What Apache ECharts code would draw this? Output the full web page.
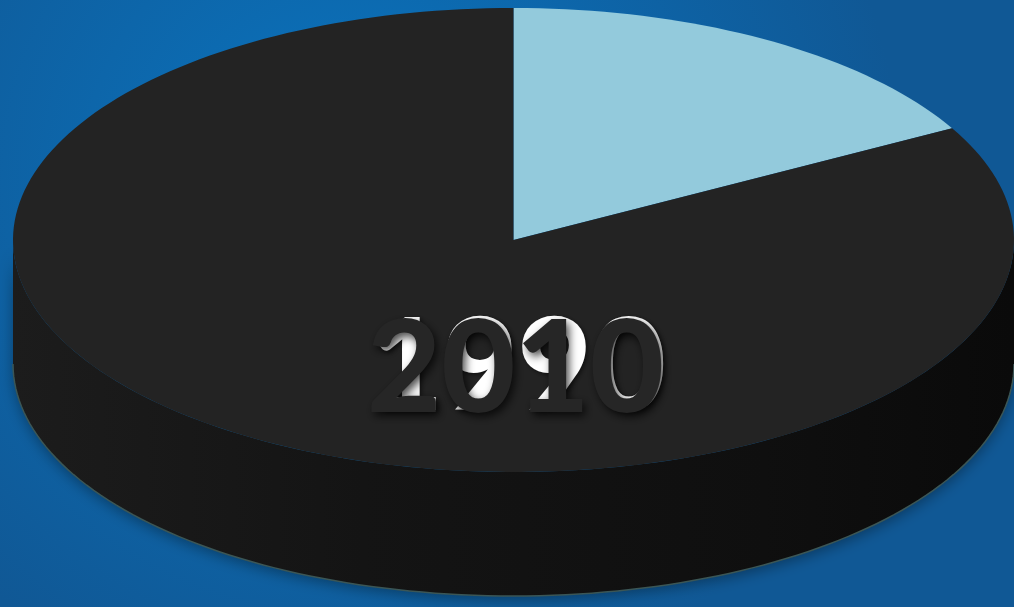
<!DOCTYPE html>
<html>
<head>
<meta charset="utf-8">
<script src="https://cdn.jsdelivr.net/npm/echarts@6/dist/echarts.min.js"></script>
<style>
  html, body { margin: 0; padding: 0; }
  #chart { width: 1014px; height: 607px; }
</style>
</head>
<body>
<div id="chart"></div>
<script>
// data
const sliceNames = ['Segment A', 'Segment B'];
const sliceValues = [17, 83];
const yearLabels = ['1990', '2010'];

const sliceColors = ['#93cadc', '#232323'];
const depth = 124; // thickness of the 3d disc, px

const total = sliceValues.reduce((a, b) => a + b, 0);
let acc = 0;
const sliceData = sliceValues.map((v, i) => {
  const start = acc / total * 360;
  acc += v;
  return { name: sliceNames[i], value: [start, acc / total * 360, v] };
});

// points on the ellipse rim, angle in degrees clockwise from 12 o'clock
function arcPoints(api, a0, a1) {
  const pts = [];
  const n = Math.max(2, Math.ceil((a1 - a0) / 1.5));
  for (let k = 0; k <= n; k++) {
    const t = (a0 + (a1 - a0) * k / n) * Math.PI / 180;
    pts.push(api.coord([Math.sin(t), Math.cos(t)]));
  }
  return pts;
}

const renderTop = (params, api) => {
  const a0 = api.value(0);
  const a1 = api.value(1);
  const pts = [api.coord([0, 0])].concat(arcPoints(api, a0, a1));
  return {
    type: 'polygon',
    shape: { points: pts },
    style: { fill: sliceColors[params.dataIndex] }
  };
};

const renderSide = (params, api) => {
  const a0 = Math.max(api.value(0), 90);
  const a1 = Math.min(api.value(1), 270);
  if (a0 >= a1) return;
  const rim = arcPoints(api, a0, a1);
  const low = rim.map(p => [p[0], p[1] + depth]).reverse();
  return {
    type: 'group',
    children: [
      {
        type: 'polygon',
        shape: { points: rim.concat(low) },
        style: {
          fill: new echarts.graphic.LinearGradient(0, 0, 1, 0, [
            { offset: 0, color: '#1c1c1c' },
            { offset: 0.35, color: '#141414' },
            { offset: 0.75, color: '#0f0f0f' },
            { offset: 1, color: '#0a0a0a' }
          ]),
          shadowColor: 'rgba(0,0,0,0.35)',
          shadowBlur: 14,
          shadowOffsetY: 4
        }
      },
      {
        type: 'polyline',
        shape: { points: low },
        style: { stroke: '#3b5656', lineWidth: 1.5, fill: null }
      }
    ]
  };
};

const chart = echarts.init(document.getElementById('chart'));

const textBase = {
  fontFamily: 'Lato',
  fontWeight: 900,
  fontSize: 128
};

chart.setOption({
  animation: false,
  backgroundColor: new echarts.graphic.RadialGradient(0.35, 0.3, 0.9, [
    { offset: 0, color: '#0a74bf' },
    { offset: 1, color: '#105895' }
  ]),
  title: [
    {
      text: yearLabels[0],
      left: 364,
      top: 300,
      z: 5,
      textStyle: Object.assign({}, textBase, {
        color: '#ffffff',
        textShadowColor: 'rgba(0,0,0,0.5)',
        textShadowBlur: 4,
        textShadowOffsetX: 2,
        textShadowOffsetY: 2
      })
    },
    {
      text: yearLabels[1],
      left: 362,
      top: 302,
      z: 6,
      textStyle: Object.assign({}, textBase, {
        color: '#262626',
        textShadowColor: 'rgba(0,0,0,0.7)',
        textShadowBlur: 8,
        textShadowOffsetX: 3,
        textShadowOffsetY: 4
      })
    }
  ],
  grid: { left: 13, top: 8, width: 1010, height: 464 },
  xAxis: { type: 'value', min: -1, max: 1, show: false },
  yAxis: { type: 'value', min: -1, max: 1, show: false },
  series: [
    {
      type: 'custom',
      name: 'side',
      z: 1,
      renderItem: renderSide,
      data: sliceData,
      silent: true
    },
    {
      type: 'custom',
      name: 'top',
      z: 2,
      renderItem: renderTop,
      data: sliceData
    }
  ]
});

window.addEventListener('resize', () => chart.resize());
</script>
</body>
</html>
